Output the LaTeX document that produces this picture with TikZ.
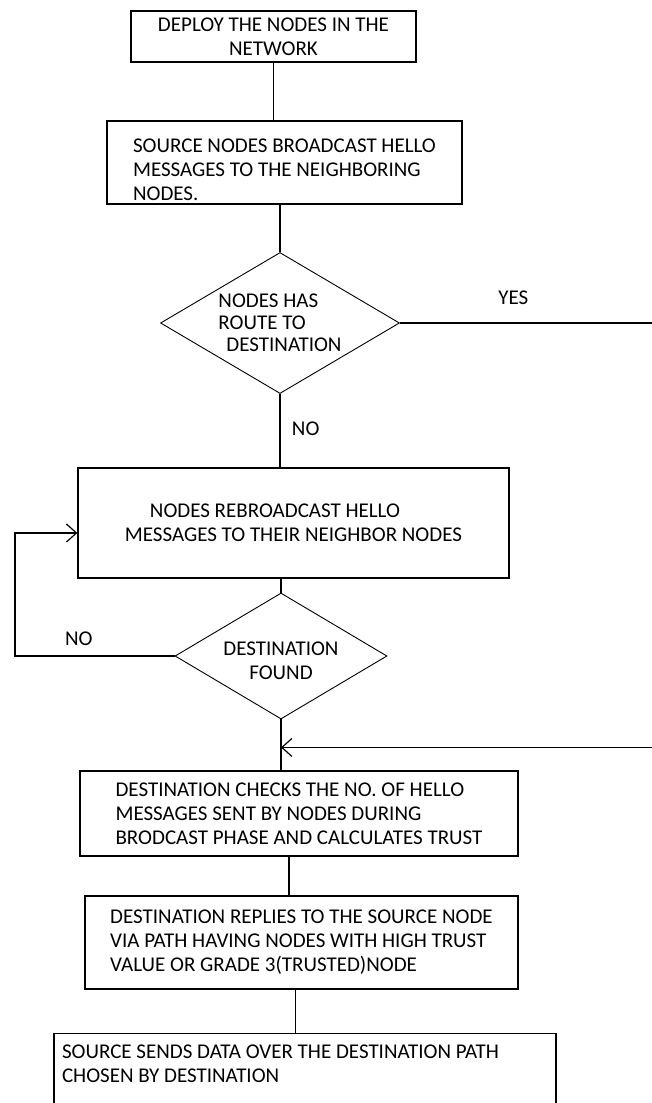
\documentclass[tikz,border=0pt]{standalone}
\usepackage{fontspec}
\setmainfont{Carlito}
\usetikzlibrary{positioning,shapes.geometric,calc,arrows.meta}

\begin{document}
\begin{tikzpicture}[x=1pt ,y=1pt ,on grid ,
font=\fontsize{21}{24}\selectfont ,
process/.style ={ rectangle ,draw ,line width=1.3pt ,
align=left ,inner sep=2pt},
decision/.style={diamond ,draw ,line width=0.9pt ,inner sep=0pt ,align=left},
link/.style={line width=1.2pt},
tip/.style={-{Straight Barb[length=10pt,width=18pt]}}
]
\useasboundingbox (0,0) rectangle (652,-1103);
\node[process ,minimum width=285pt ,minimum height=51pt ,align=center] (Kdeploy) at (273.5,-36.5)
    {DEPLOY THE NODES IN THE\\NETWORK};
\node[process ,minimum width=355pt ,minimum height=83pt] (Khello) [below right = 126pt and 11pt of Kdeploy]
    {\rule{0pt}{28pt}SOURCE NODES BROADCAST HELLO\\MESSAGES TO THE NEIGHBORING\\NODES.};
\node[decision ,minimum width=239pt ,minimum height=141pt ,aspect=1.695 ,font=\fontsize{21}{22}\selectfont] (Qroute) [below left = 160.5pt and 4.5pt of Khello]
    {NODES HAS\\ROUTE TO\\\hspace*{8pt}DESTINATION};
\node[process ,minimum width=431pt ,minimum height=110pt] (Krebcast) [below right = 200pt and 13.5pt of Qroute]
    {\hspace*{25pt}NODES REBROADCAST HELLO\\MESSAGES TO THEIR NEIGHBOR NODES};
\node[decision ,minimum width=212pt ,minimum height=126pt ,aspect=1.683 ,align=center] (Qfound) [below left = 133pt and 12.5pt of Krebcast]
    {~\\DESTINATION\\FOUND};
\node[process ,minimum width=438pt ,minimum height=85pt] (Kcheck) [below right = 157.5pt and 18pt of Qfound]
    {DESTINATION CHECKS THE NO. OF HELLO\\MESSAGES SENT BY NODES DURING\\BRODCAST PHASE AND CALCULATES TRUST};
\node[process ,minimum width=433pt ,minimum height=93pt] (Kreply) [below right = 129pt and 2.5pt of Kcheck]
    {DESTINATION REPLIES TO THE SOURCE NODE\\VIA PATH HAVING NODES WITH HIGH TRUST\\VALUE OR GRADE 3(TRUSTED)NODE};
\node[process ,text width=486pt ,align=flush left ,inner xsep=8pt ,inner ysep=12pt] (Ksend) [below right = 145.5pt and 3.5pt of Kreply]
    {SOURCE SENDS DATA OVER THE DESTINATION PATH\\CHOSEN BY DESTINATION\\~\\~};

% free ends of the two long connectors
\coordinate (rim) at (670,0);
\coordinate (back) at (15,0);
\coordinate (join) at ($(Qfound.south)!0.55!(Qfound.south |- Kcheck.north)$);
\coordinate (c1) at ($(Kcheck.south)+(-10,0)$);
\coordinate (c2) at ($(Kreply.south)+(-6,0)$);
\coordinate (loopin) at ($(Krebcast.west)+(0,-10)$);

\draw[link] (Kdeploy.south) -- (Kdeploy.south |- Khello.north);
\draw[link] (Qroute.north |- Khello.south) -- (Qroute.north);
\draw[link] (Qroute.south) -- node[pos=.47 ,right=8pt] {NO} (Qroute.south |- Krebcast.north);
\draw[link] (Qfound.north |- Krebcast.south) -- (Qfound.north);
\draw[link] (Qfound.south) -- (Qfound.south |- Kcheck.north);
\draw[link] (c1) -- (c1 |- Kreply.north);
\draw[link] (c2) -- (c2 |- Ksend.north);
\draw[link ,tip] (Qroute.east) -- node[pos=.42 ,yshift=25pt] {YES} (Qroute.east -| rim) |- (join);
\draw[link ,tip] (Qfound.west) -- node[pos=.6 ,above=6pt] {NO} (Qfound.west -| back) |- (loopin);
\end{tikzpicture}
\end{document}
